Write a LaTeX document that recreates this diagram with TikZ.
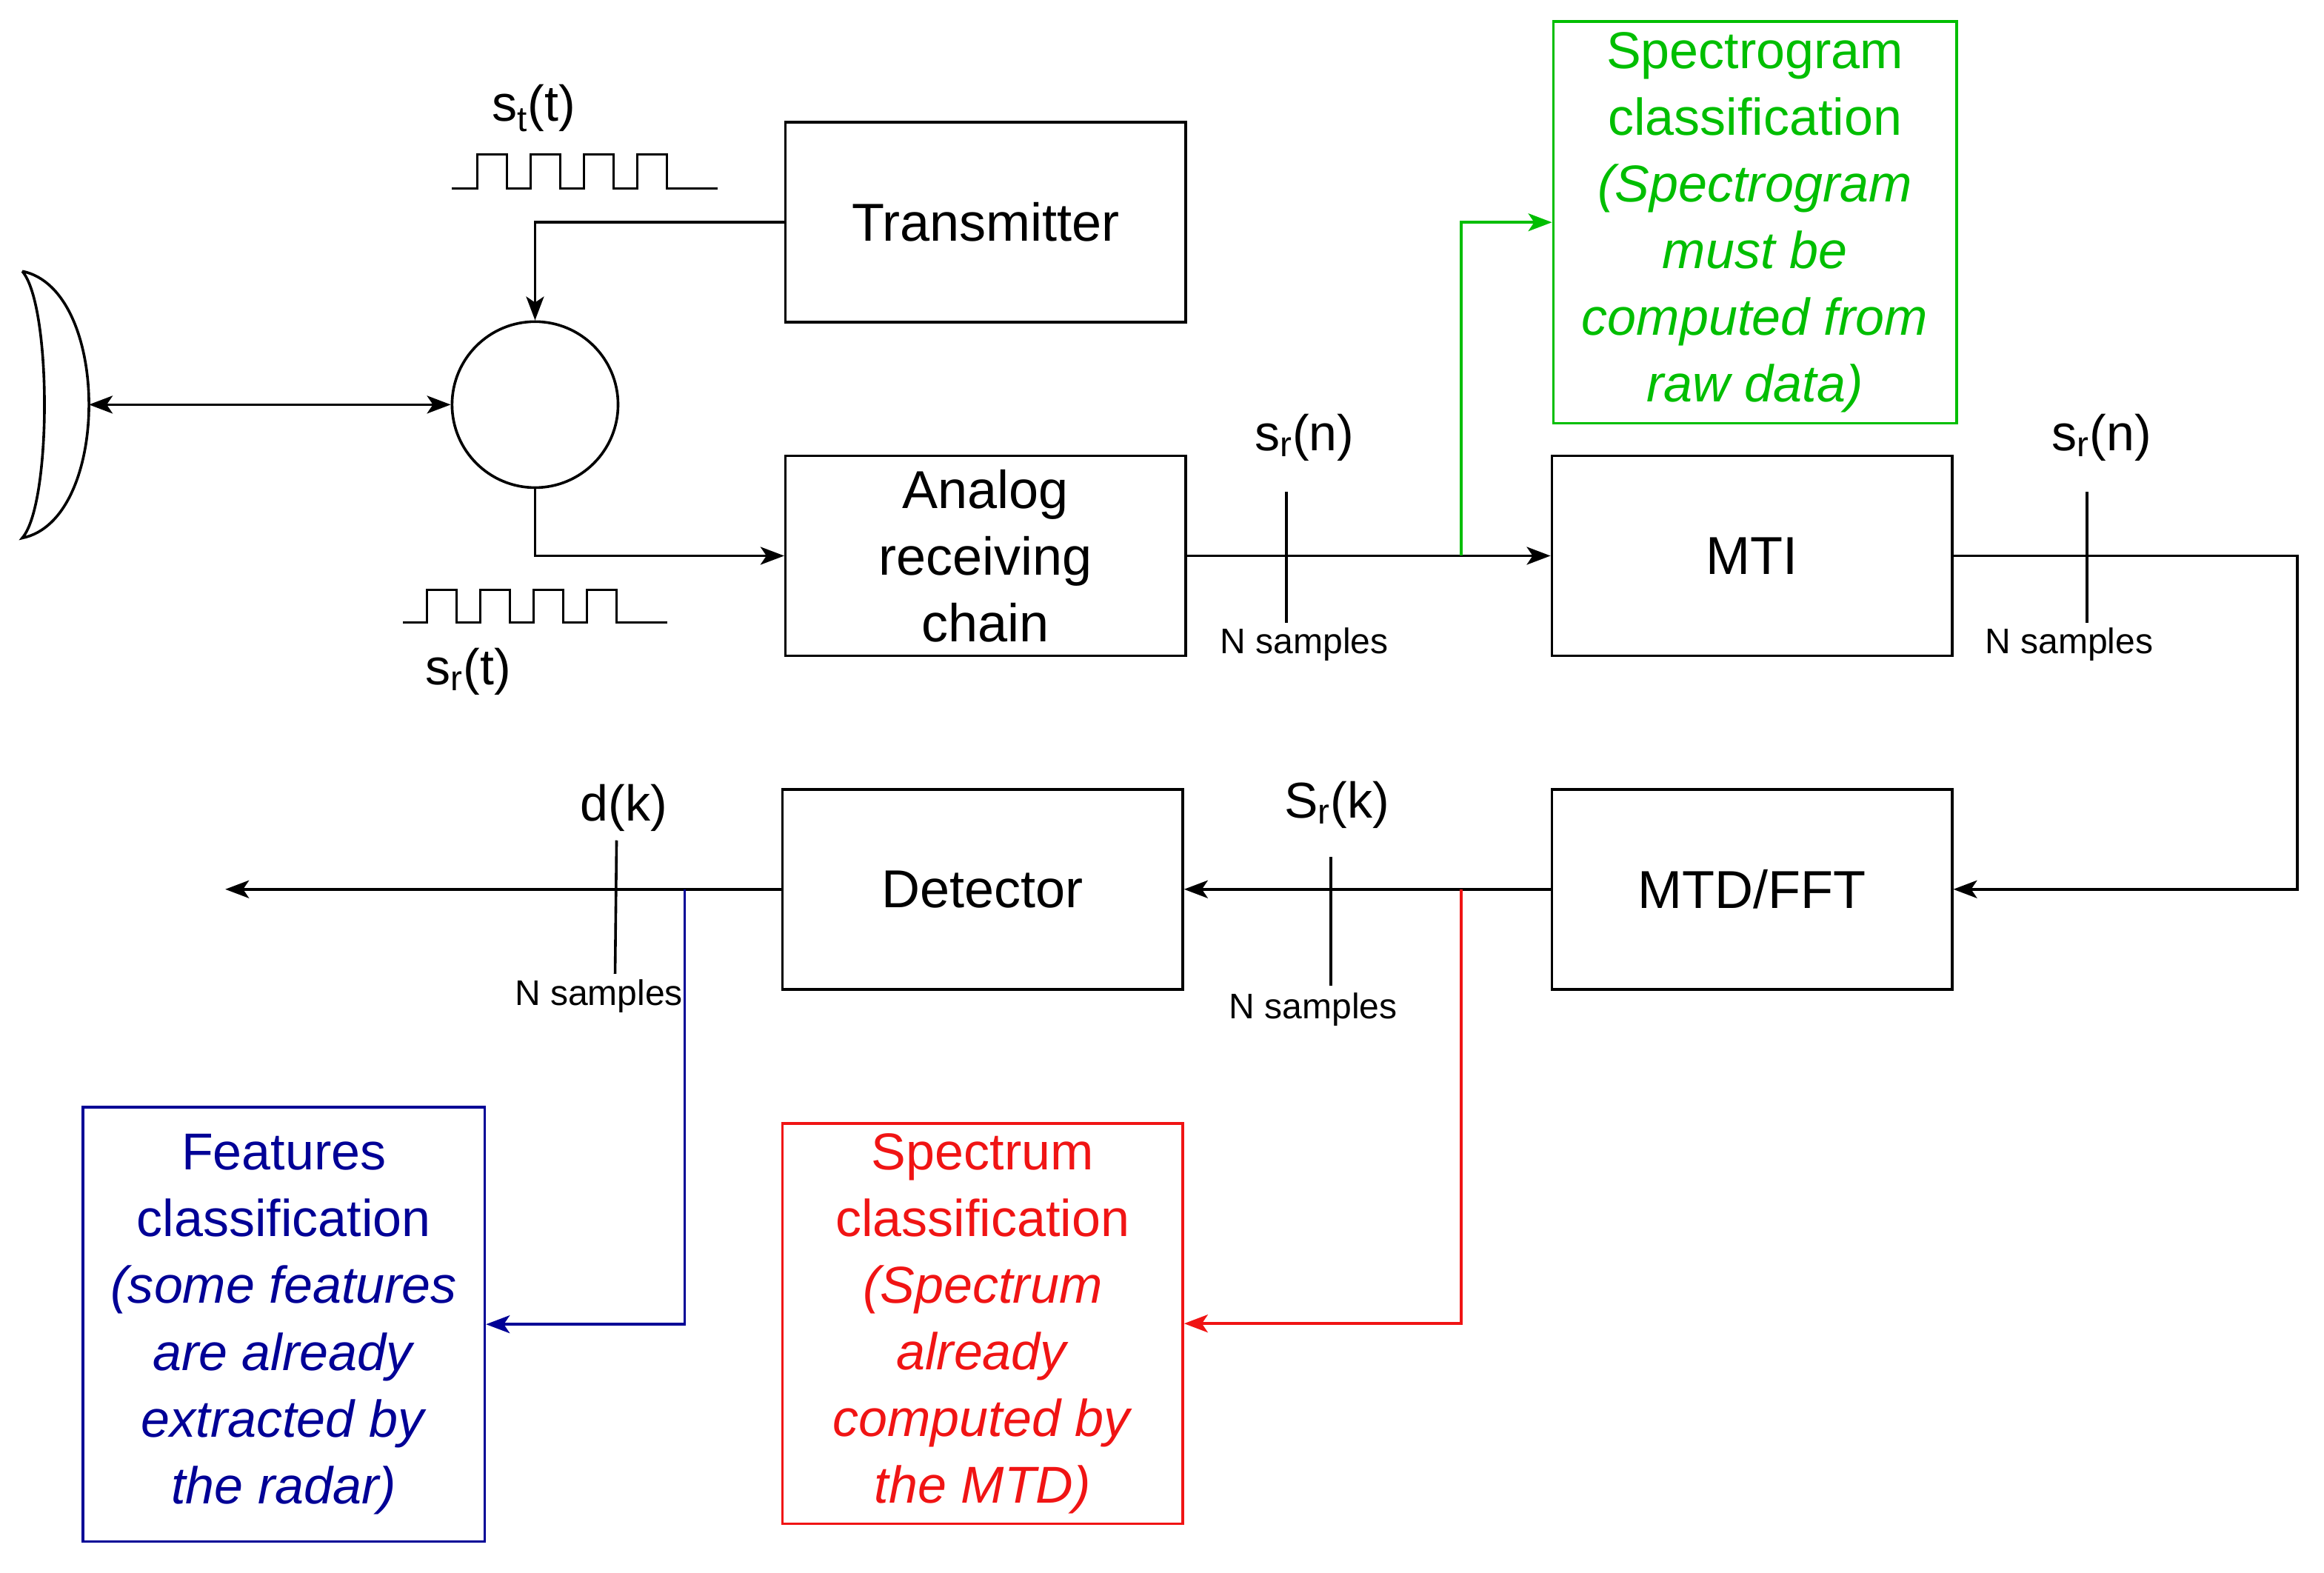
\documentclass[tikz,border=0pt]{standalone}
\usepackage{fontspec}
\setmainfont{Liberation Sans}
\usetikzlibrary{arrows.meta}
\definecolor{gr}{RGB}{0,190,0}
\definecolor{rd}{RGB}{240,20,20}
\definecolor{bl}{RGB}{0,0,150}
\begin{document}
\begin{tikzpicture}[x=1pt,y=-1pt,line width=1.8pt,
  box/.style={draw,inner sep=0pt,font=\fontsize{36}{45}\selectfont,align=center},
  lbl/.style={font=\fontsize{34}{40}\selectfont},
  ns/.style={font=\fontsize{24}{28}\selectfont},
  arr/.style={-{Stealth[length=16pt,width=12pt,inset=4pt]}},
  cbox/.style={draw,inner sep=0pt,font=\fontsize{35}{45}\selectfont,align=center}]
\useasboundingbox (0,0) rectangle (1568,1061);
% boxes
\node[box,minimum width=270pt,minimum height=135pt] (tx) at (665,150) {Transmitter};
\node[box,minimum width=270pt,minimum height=135pt] (arc) at (665,375) {Analog\\receiving\\chain};
\node[box,minimum width=270pt,minimum height=135pt] (mti) at (1182,375) {MTI};
\node[box,minimum width=270pt,minimum height=135pt] (mtd) at (1182,600) {MTD/FFT};
\node[box,minimum width=270pt,minimum height=135pt] (det) at (663,600) {Detector};
\node[cbox,draw=gr,text=gr,minimum width=272pt,minimum height=271pt] (sg) at (1184,150) {Spectrogram\\classification\\\textit{(Spectrogram}\\\textit{must be}\\\textit{computed from}\\\textit{raw data)}};
\node[cbox,draw=rd,text=rd,minimum width=270pt,minimum height=270pt] (sp) at (663,893) {Spectrum\\classification\\\textit{(Spectrum}\\\textit{already}\\\textit{computed by}\\\textit{the MTD)}};
\node[cbox,draw=bl,text=bl,minimum width=271pt,minimum height=293pt] (fc) at (191.5,893.5) {Features\\classification\\\textit{(some features}\\\textit{are already}\\\textit{extracted by}\\\textit{the radar)}};
\node[draw,circle,minimum size=112pt,inner sep=0pt] (circ) at (361,273) {};
% antenna
\coordinate (ant) at (60,273);
\draw (15,183) .. controls (75,195) and (75,351) .. (15,363) .. controls (35,340) and (35,206) .. (15,183);
\draw[{Stealth[length=16pt,width=12pt,inset=4pt]}-{Stealth[length=16pt,width=12pt,inset=4pt]}] (ant) -- (circ.west);
% connectors
\draw[arr] (tx.west) -| (circ.north);
\draw[arr] (circ.south) |- (arc.west);
\draw[arr] (arc.east) -- (mti.west);
\draw[arr] (mti.east) -- (1550,375) |- (mtd.east);
\draw[arr] (mtd.west) -- (det.west -| det.east);
\draw[arr] (det.west) -- (152,600);
\draw[arr,gr] (986,375) |- (sg.west);
\draw[arr,rd] (986,600) |- (sp.east);
\draw[arr,bl] (462,600) |- (fc.east);
% ticks
\draw (868,332) -- (868,420);
\draw (1408,332) -- (1408,420);
\draw (898,578) -- (898,665);
\draw (416,567) -- (415,657);
% labels
\node[lbl] (l1) at (880,295) {s$_{\mathrm{r}}$(n)};
\node[lbl] (l2) at (1418,295) {s$_{\mathrm{r}}$(n)};
\node[lbl] (l3) at (902,543) {S$_{\mathrm{r}}$(k)};
\node[lbl] (l4) at (421,545) {d(k)};
\node[ns] (n1) at (880,435) {N samples};
\node[ns] (n2) at (1396,435) {N samples};
\node[ns] (n3) at (886,681) {N samples};
\node[ns] (n4) at (404,672) {N samples};
\node[lbl] (st) at (360,73) {s$_{\mathrm{t}}$(t)};
\node[lbl] (sr) at (316,453) {s$_{\mathrm{r}}$(t)};
% waveforms
\draw[line width=1.6pt] (305,127) -- (322,127)
  \foreach \i in {0,1,2,3} { -- ++(0,-23) -- ++(20,0) -- ++(0,23) -- ++(16,0) } -- (484,127);
\draw[line width=1.6pt] (272,420) -- (288,420)
  \foreach \i in {0,1,2,3} { -- ++(0,-22) -- ++(20,0) -- ++(0,22) -- ++(16,0) } -- (450,420);
\end{tikzpicture}
\end{document}
